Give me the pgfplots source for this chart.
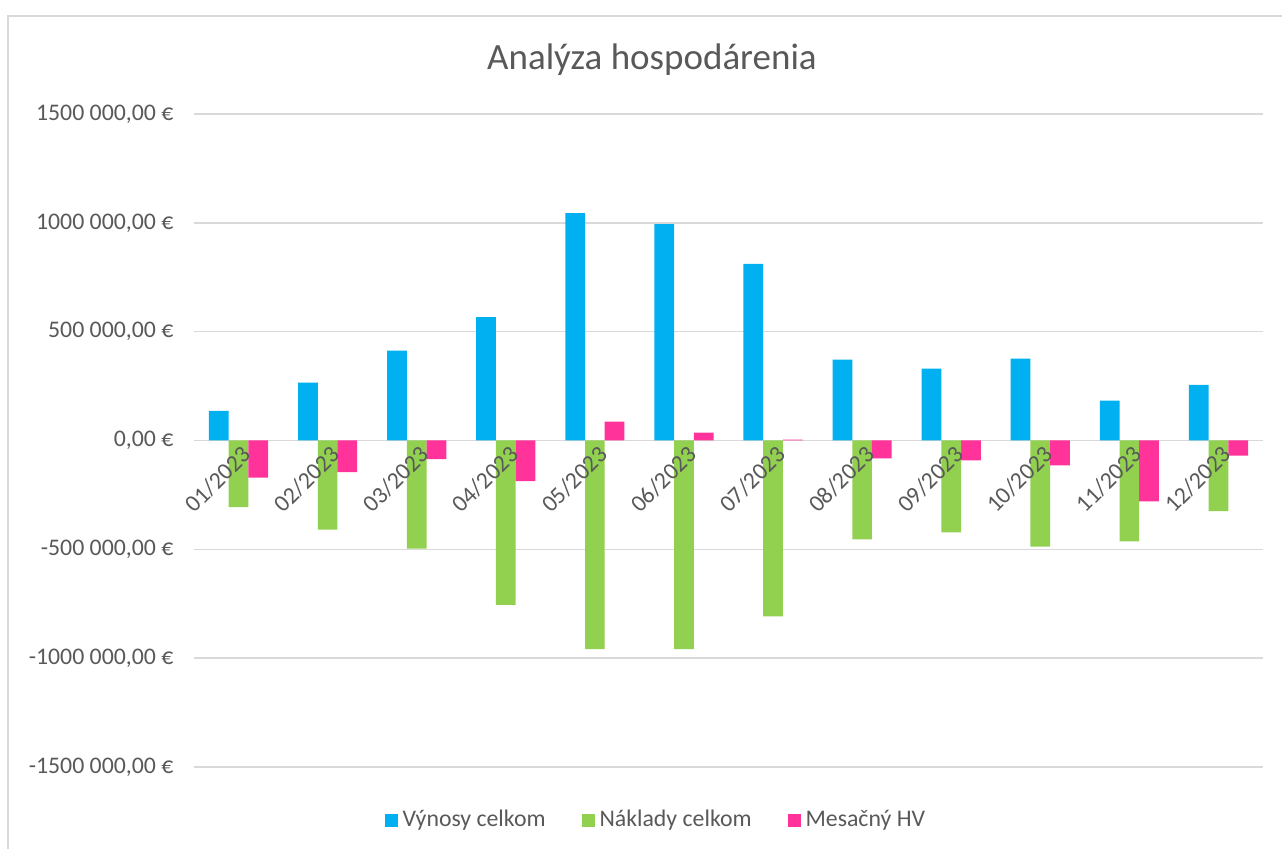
\documentclass[border=0pt]{standalone}
\usepackage{pgfplots}
\pgfplotsset{compat=1.18}
\usepackage{fontspec}
\setmainfont{Carlito}
\definecolor{cblue}{HTML}{00B0F0}
\definecolor{cgreen}{HTML}{92D050}
\definecolor{cpink}{HTML}{FF3399}
\definecolor{ctext}{HTML}{595959}
\definecolor{cgrid}{HTML}{D9D9D9}
\pgfplotsset{
 common/.style={
  at={(97pt,41pt)}, anchor=south west,
  scale only axis, width=534.5pt, height=326.5pt,
  xmin=-0.5, xmax=11.5, ymin=-1500000, ymax=1500000,
  scaled y ticks=false,
  ticklabel style={text=ctext, font=\fontsize{11.9}{14}\selectfont},
 }
}
\begin{document}
\begin{tikzpicture}
\path[use as bounding box] (0,0) rectangle (641pt,424.5pt);
\draw[cgrid, line width=0.75pt] (4pt,-2pt) -- (4pt,416.5pt) -- (643pt,416.5pt);
\node[text=ctext, font=\fontsize{18.5}{22}\selectfont] at (326pt,394.5pt) {Analýza hospodárenia};
\begin{axis}[
 common,
 axis x line*=middle, axis y line*=left,
 hide obscured x ticks=false, hide obscured y ticks=false,
 y axis line style={draw=none},
 x axis line style={cgrid, line width=0.75pt},
 ytick={-1500000,-1000000,-500000,0,500000,1000000,1500000},
 yticklabels={{-1500 000,00 €},{-1000 000,00 €},{-500 000,00 €},{0,00 €},{500 000,00 €},{1000 000,00 €},{1500 000,00 €}},
 ymajorgrids, grid style={cgrid, line width=0.75pt},
 ytick style={draw=none},
 xtick={0,...,11},
 xticklabels={},
 xtick style={draw=none},
 minor xtick={-0.5,0.5,...,11.5},
 minor x tick style={cgrid, line width=0.75pt},
 minor tick length=3pt,
 tick align=outside,
 yticklabel style={xshift=-2.5pt},
 ybar=0pt, bar width=9.85pt,
 legend columns=3,
 legend style={at={(0.433,-0.0812)}, anchor=center, draw=none, fill=none,
   font=\fontsize{11.9}{14}\selectfont, text=ctext,
   /tikz/every even column/.append style={column sep=16pt},
   /tikz/every odd column/.append style={column sep=0.5pt}},
 legend image code/.code={\fill[#1] (0pt,-3.25pt) rectangle (6.5pt,3.25pt);},
]
\addplot[fill=cblue, draw=none] coordinates {(0,135500) (1,266000) (2,413000) (3,567000) (4,1045000) (5,994000) (6,811000) (7,372000) (8,330000) (9,376000) (10,183000) (11,256000)};
\addlegendentry{Výnosy celkom}
\addplot[fill=cgreen, draw=none] coordinates {(0,-306000) (1,-410000) (2,-497000) (3,-755000) (4,-958000) (5,-958000) (6,-808000) (7,-454000) (8,-422000) (9,-488000) (10,-463000) (11,-325000)};
\addlegendentry{Náklady celkom}
\addplot[fill=cpink, draw=none] coordinates {(0,-171000) (1,-145000) (2,-86000) (3,-187000) (4,87000) (5,36000) (6,4000) (7,-82000) (8,-91000) (9,-114000) (10,-280000) (11,-69000)};
\addlegendentry{Mesačný HV}
\end{axis}
\begin{axis}[
 common,
 axis x line*=middle, axis y line=none,
 hide obscured x ticks=false,
 x axis line style={draw=none},
 xtick={0,...,11},
 xticklabels={01/2023,02/2023,03/2023,04/2023,05/2023,06/2023,07/2023,08/2023,09/2023,10/2023,11/2023,12/2023},
 xtick style={draw=none},
 xticklabel style={rotate=45, anchor=north east, inner sep=2pt, xshift=1.5pt},
]
\end{axis}
\end{tikzpicture}
\end{document}
